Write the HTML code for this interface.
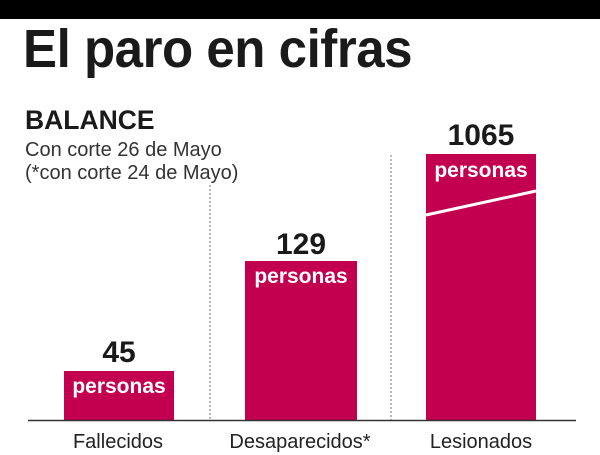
<!DOCTYPE html>
<html><head><meta charset="utf-8"><style>
body{margin:0;width:600px;height:455px;background:#fff;position:relative;overflow:hidden;font-family:"Liberation Sans",sans-serif}
.a{position:absolute;white-space:nowrap}
</style></head><body>
<div class="a" style="left:0;top:0;width:600px;height:19px;background:#000"></div>
<div class="a" style="left:23px;top:18px;font-size:54px;font-weight:bold;color:#1a1a1a;transform:scaleX(0.945);transform-origin:left top;letter-spacing:-0.5px">El paro en cifras</div>
<div class="a" style="left:25px;top:105px;font-size:26.5px;font-weight:bold;color:#1a1a1a">BALANCE</div>
<div class="a" style="left:25px;top:139px;font-size:20px;color:#333;line-height:23px">Con corte 26 de Mayo<br>(*con corte 24 de Mayo)</div>
<svg class="a" style="left:0;top:0" width="600" height="455">
<line x1="210" y1="185" x2="210" y2="420" stroke="#777" stroke-dasharray="2,2"/>
<line x1="391" y1="155" x2="391" y2="420" stroke="#777" stroke-dasharray="2,2"/>
<rect x="64" y="371" width="110" height="49" fill="#c2004f"/>
<rect x="245" y="261" width="112" height="159" fill="#c2004f"/>
<rect x="426" y="154" width="110" height="266" fill="#c2004f"/>
<line x1="426" y1="215" x2="536" y2="191" stroke="#fff" stroke-width="3"/>
<line x1="28" y1="420.5" x2="576" y2="420.5" stroke="#333" stroke-width="1.5"/>
<g font-family="Liberation Sans" font-weight="bold" fill="#1a1a1a" font-size="30" text-anchor="middle">
<text x="119" y="362">45</text><text x="301" y="254">129</text><text x="481" y="145">1065</text></g>
<g font-family="Liberation Sans" font-weight="bold" fill="#fff" font-size="21" text-anchor="middle">
<text x="119" y="393">personas</text><text x="301" y="283">personas</text><text x="481" y="177">personas</text></g>
<g font-family="Liberation Sans" fill="#222" font-size="20" text-anchor="middle">
<text x="118" y="448">Fallecidos</text><text x="300" y="448">Desaparecidos*</text><text x="481" y="448">Lesionados</text></g>
</svg>
</body></html>
